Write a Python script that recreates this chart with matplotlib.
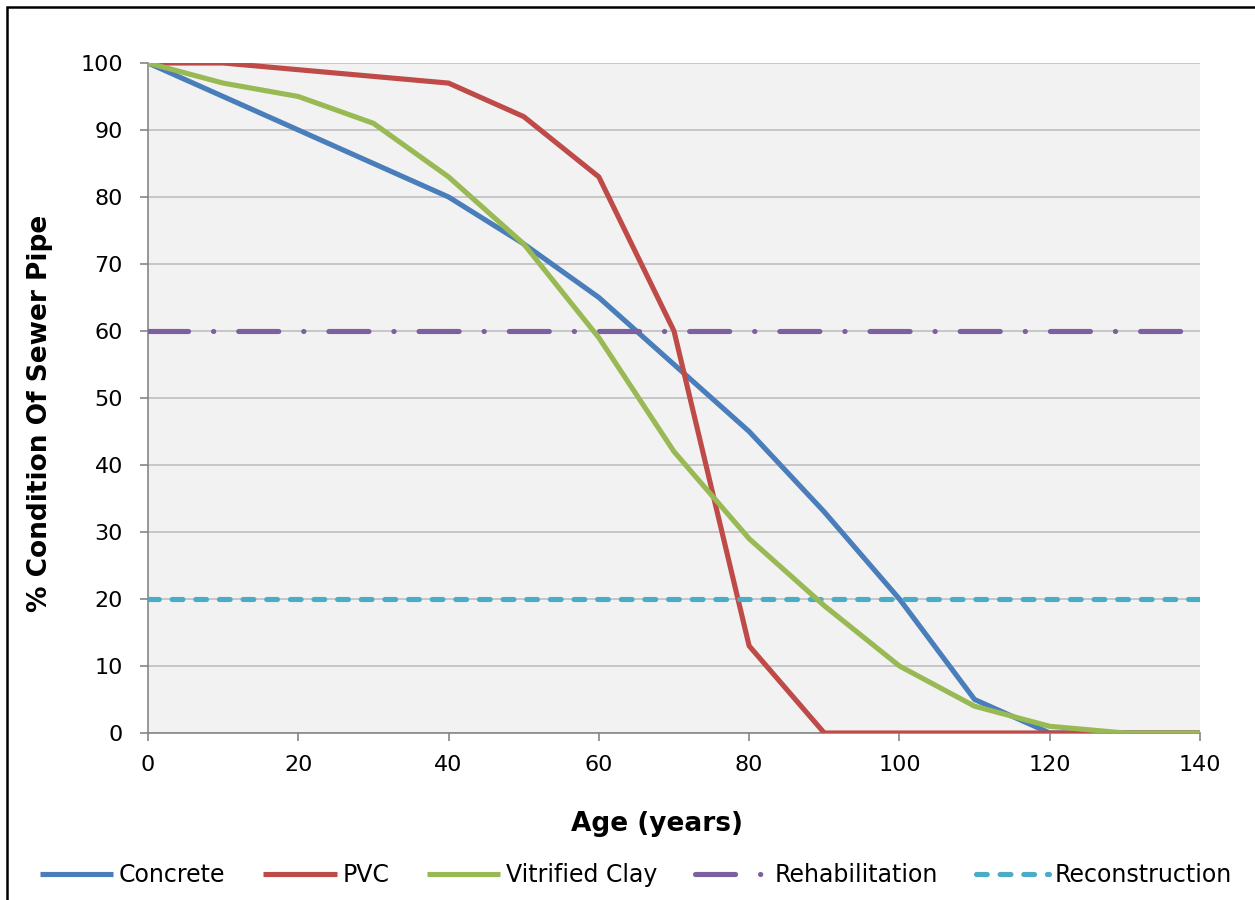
import matplotlib
matplotlib.use("Agg")
import matplotlib.pyplot as plt
from matplotlib.patches import Rectangle

age = [0, 10, 20, 30, 40, 50, 60, 70, 80, 90, 100, 110, 120, 130, 140]
concrete = [100, 95, 90, 85, 80, 73, 65, 55, 45, 33, 20, 5, 0, 0, 0]
pvc = [100, 100, 99, 98, 97, 92, 83, 60, 13, 0, 0, 0, 0, 0, 0]
clay = [100, 97, 95, 91, 83, 73, 59, 42, 29, 19, 10, 4, 1, 0, 0]
rehab = [60] * len(age)
recon = [20] * len(age)

labels = ["Concrete", "PVC", "Vitrified Clay", "Rehabilitation", "Reconstruction"]
colors = ["#4A7EBB", "#BE4B48", "#98B954", "#7D60A0", "#4BACC6"]

plt.rcParams['font.family'] = ['DejaVu Sans']
W, H = 1255, 900
fig = plt.figure(figsize=(W / 100, H / 100), dpi=100)
ax = fig.add_axes([148 / W, 1 - 733 / H, (1200 - 148) / W, (733 - 63) / H])
ax.set_facecolor("#F2F2F2")

lw = 3.7
ax.plot(age, concrete, color=colors[0], lw=lw, label=labels[0], solid_capstyle='butt', zorder=3)
ax.plot(age, pvc, color=colors[1], lw=lw, label=labels[1], solid_capstyle='butt', zorder=3)
ax.plot(age, rehab, color=colors[3], lw=lw, label=labels[3], dash_capstyle='round',
        dashes=(7.8, 4.85, 0.05, 4.85), zorder=3)
ax.plot(age, recon, color=colors[4], lw=lw, label=labels[4], dash_capstyle='round',
        dashes=(2.1, 2.5), zorder=3)
ax.plot(age, clay, color=colors[2], lw=lw, label=labels[2], solid_capstyle='butt', zorder=4)

ax.set_xlim(0, 140)
ax.set_ylim(0, 100)
ax.set_xticks(range(0, 141, 20))
ax.set_yticks(range(0, 101, 10))
ax.grid(axis='y', color="#BFBFBF", lw=1.2, zorder=1)
ax.set_axisbelow(True)
for s in ["top", "right"]:
    ax.spines[s].set_visible(False)
for s in ["left", "bottom"]:
    ax.spines[s].set_color("#868686")
    ax.spines[s].set_linewidth(1.2)
ax.tick_params(axis='both', direction='out', length=6, width=1.2, color="#868686",
               labelsize=16)
ax.tick_params(axis='y', pad=12)
ax.tick_params(axis='x', pad=10)

ax.set_xlabel("Age (years)", fontsize=19, fontweight='bold')
ax.set_ylabel("% Condition Of Sewer Pipe", fontsize=19, fontweight='bold')
ax.xaxis.set_label_coords(0.484, -0.116)
ax.yaxis.set_label_coords(-0.0903, 0.477)

handles, labs = ax.get_legend_handles_labels()
order = [labs.index(l) for l in labels]
leg = fig.legend([handles[i] for i in order], [labs[i] for i in order],
                 loc='center', bbox_to_anchor=(636 / W, 1 - 875 / H), ncol=5,
                 frameon=False, fontsize=17, handlelength=3.1, handletextpad=0.25,
                 columnspacing=1.6)

fig.patches.append(Rectangle((7 / W, -0.5), 2, 1.5 - 7 / H, transform=fig.transFigure,
                             fill=False, edgecolor='black', lw=1.8, zorder=10))

fig.savefig("out.png", dpi=100)
